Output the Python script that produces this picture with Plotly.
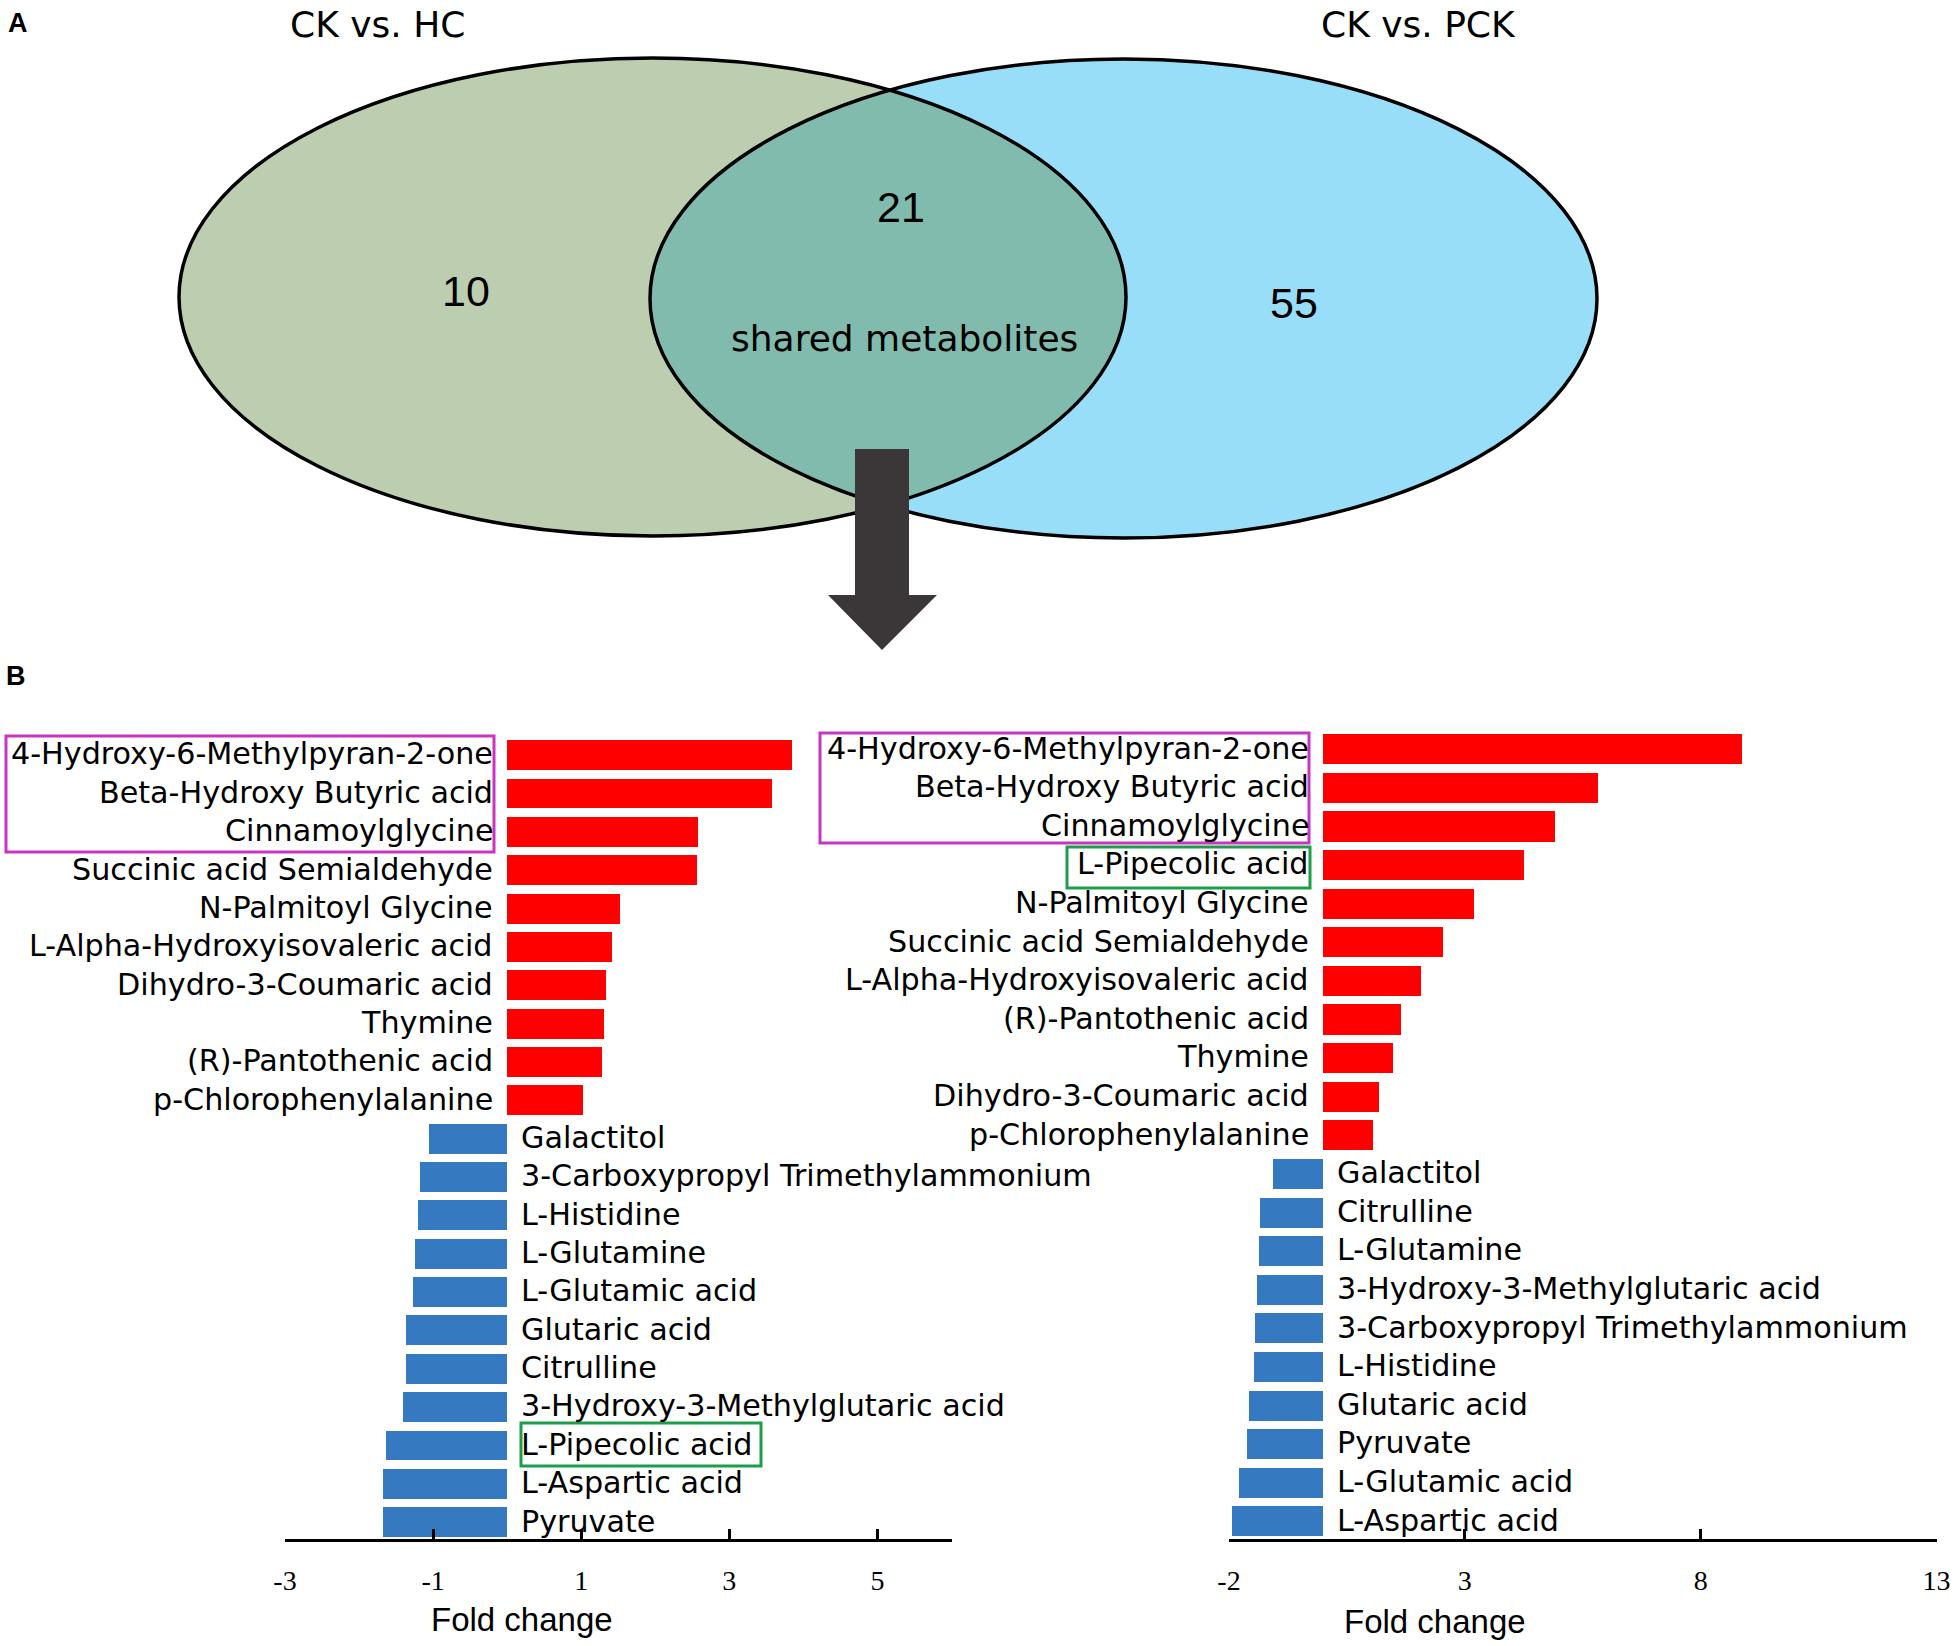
import plotly.graph_objects as go
import numpy as np

W, H = 1955, 1646

# ---------------- data ----------------
venn_titles = ["CK vs. HC", "CK vs. PCK"]
venn_counts = [10, 21, 55]          # HC only, shared, PCK only
venn_shared_label = "shared metabolites"

hc_labels = [
    "4-Hydroxy-6-Methylpyran-2-one", "Beta-Hydroxy Butyric acid", "Cinnamoylglycine",
    "Succinic acid Semialdehyde", "N-Palmitoyl Glycine", "L-Alpha-Hydroxyisovaleric acid",
    "Dihydro-3-Coumaric acid", "Thymine", "(R)-Pantothenic acid", "p-Chlorophenylalanine",
    "Galactitol", "3-Carboxypropyl Trimethylammonium", "L-Histidine", "L-Glutamine",
    "L-Glutamic acid", "Glutaric acid", "Citrulline", "3-Hydroxy-3-Methylglutaric acid",
    "L-Pipecolic acid", "L-Aspartic acid", "Pyruvate",
]
hc_values = [3.85, 3.57, 2.58, 2.57, 1.52, 1.41, 1.34, 1.31, 1.28, 1.03,
             -1.05, -1.18, -1.20, -1.24, -1.27, -1.36, -1.37, -1.40, -1.64, -1.67, -1.68]

pck_labels = [
    "4-Hydroxy-6-Methylpyran-2-one", "Beta-Hydroxy Butyric acid", "Cinnamoylglycine",
    "L-Pipecolic acid", "N-Palmitoyl Glycine", "Succinic acid Semialdehyde",
    "L-Alpha-Hydroxyisovaleric acid", "(R)-Pantothenic acid", "Thymine",
    "Dihydro-3-Coumaric acid", "p-Chlorophenylalanine",
    "Galactitol", "Citrulline", "L-Glutamine", "3-Hydroxy-3-Methylglutaric acid",
    "3-Carboxypropyl Trimethylammonium", "L-Histidine", "Glutaric acid", "Pyruvate",
    "L-Glutamic acid", "L-Aspartic acid",
]
pck_values = [8.88, 5.82, 4.92, 4.26, 3.20, 2.53, 2.06, 1.64, 1.47, 1.19, 1.05,
              -1.06, -1.34, -1.37, -1.40, -1.45, -1.48, -1.58, -1.61, -1.78, -1.93]

hc_ticks = [-3, -1, 1, 3, 5]
pck_ticks = [-2, 3, 8, 13]
x_title = "Fold change"

# ---------------- style ----------------
RED = "#FF0000"
BLUE = "#3579C0"
LABEL_FONT = dict(family="DejaVu Sans", size=30.2, color="black")
TICK_FONT = dict(family="Liberation Serif", size=28, color="black")


def px(x):
    return x / W


def py(y):
    return 1 - y / H


fig = go.Figure()

for vals, xa, ya in [(hc_values, "x", "y"), (pck_values, "x2", "y2")]:
    fig.add_trace(go.Bar(
        x=vals, y=list(range(len(vals))), orientation="h",
        marker=dict(color=[RED if v > 0 else BLUE for v in vals], line=dict(width=0)),
        width=0.78, xaxis=xa, yaxis=ya, showlegend=False, hoverinfo="skip",
    ))

axis_common = dict(showgrid=False, zeroline=False, showline=True, linecolor="black",
                   linewidth=3, ticks="inside", ticklen=10, tickwidth=2.5,
                   tickcolor="black", tickfont=TICK_FONT, ticklabelstandoff=15,
                   ticklabeloverflow="allow", automargin=False)

fig.update_layout(
    width=W, height=H, autosize=False,
    margin=dict(l=0, r=0, t=0, b=0, pad=0, autoexpand=False),
    paper_bgcolor="white", plot_bgcolor="white",
    bargap=0,
    xaxis=dict(domain=[px(285), px(951.5)], range=[-3, 6], tickvals=hc_ticks,
               ticktext=[str(v) for v in hc_ticks], anchor="y", **axis_common),
    yaxis=dict(domain=[py(1538.5), py(735.8)], range=[20.43, -0.5], visible=False,
               anchor="x", automargin=False),
    xaxis2=dict(domain=[px(1229), px(1936.6)], range=[-2, 13], tickvals=pck_ticks,
                ticktext=[str(v) for v in pck_ticks], anchor="y2", **axis_common),
    yaxis2=dict(domain=[py(1538.5), py(729.7)], range=[20.45, -0.5], visible=False,
                anchor="x2", automargin=False),
)

annotations = []
for labels, vals, xr, yr in [(hc_labels, hc_values, "x", "y"),
                             (pck_labels, pck_values, "x2", "y2")]:
    for i, (lab, v) in enumerate(zip(labels, vals)):
        pos = v > 0
        annotations.append(dict(
            x=0, y=i, xref=xr, yref=yr, text=lab, showarrow=False,
            xanchor="right" if pos else "left", yanchor="middle",
            xshift=-12 if pos else 12, yshift=1, font=LABEL_FONT,
        ))

for cx, cy in [(522, 1619), (1435, 1621)]:
    annotations.append(dict(x=px(cx), y=py(cy), xref="paper", yref="paper", text=x_title,
                            showarrow=False, xanchor="center", yanchor="middle",
                            font=dict(family="Liberation Sans", size=33, color="black")))

annotations.append(dict(x=px(18), y=py(23), xref="paper", yref="paper", text="<b>A</b>",
                        showarrow=False, xanchor="center", yanchor="middle",
                        font=dict(family="Liberation Sans", size=27, color="black")))
annotations.append(dict(x=px(16), y=py(676), xref="paper", yref="paper", text="<b>B</b>",
                        showarrow=False, xanchor="center", yanchor="middle",
                        font=dict(family="Liberation Sans", size=27, color="black")))

for t, cx in zip(venn_titles, [377, 1418]):
    annotations.append(dict(x=px(cx), y=py(24), xref="paper", yref="paper", text=t,
                            showarrow=False, xanchor="center", yanchor="middle",
                            font=dict(family="DejaVu Sans", size=36, color="black")))

for n, (cx, cy) in zip(venn_counts, [(466, 291), (901, 207), (1294, 303)]):
    annotations.append(dict(x=px(cx), y=py(cy), xref="paper", yref="paper", text=str(n),
                            showarrow=False, xanchor="center", yanchor="middle",
                            font=dict(family="Liberation Sans", size=43, color="black")))
annotations.append(dict(x=px(904.5), y=py(338), xref="paper", yref="paper",
                        text=venn_shared_label, showarrow=False, xanchor="center",
                        yanchor="middle",
                        font=dict(family="DejaVu Sans", size=36, color="black")))

fig.update_layout(annotations=annotations)

# ---------------- Venn shapes ----------------
L = dict(cx=652.5, cy=297, rx=473.5, ry=239)
R = dict(cx=1123.5, cy=298.5, rx=473.5, ry=239.5)

shapes = []


def ellipse_shape(e, fill, line_w, layer="below"):
    return dict(type="circle", xref="paper", yref="paper",
                x0=px(e["cx"] - e["rx"]), x1=px(e["cx"] + e["rx"]),
                y0=py(e["cy"] + e["ry"]), y1=py(e["cy"] - e["ry"]),
                fillcolor=fill, line=dict(color="black", width=line_w), layer=layer)


shapes.append(ellipse_shape(L, "#BDCEB0", 0))
shapes.append(ellipse_shape(R, "#99DEF8", 0))

xm = 888.0
pts = []
thL = np.arccos((xm - L["cx"]) / L["rx"])
for a in np.linspace(-thL, thL, 120):
    pts.append((L["cx"] + L["rx"] * np.cos(a), L["cy"] + L["ry"] * np.sin(a)))
thR = np.arccos((xm - R["cx"]) / R["rx"])
for a in np.linspace(thR, 2 * np.pi - thR, 120):
    pts.append((R["cx"] + R["rx"] * np.cos(a), R["cy"] - R["ry"] * np.sin(a)))
path = "M " + " L ".join(f"{px(x):.5f},{py(y):.5f}" for x, y in pts) + " Z"
shapes.append(dict(type="path", xref="paper", yref="paper", path=path,
                   fillcolor="#80BBAD", line=dict(width=0), layer="below"))

shapes.append(ellipse_shape(L, "rgba(0,0,0,0)", 3.5, "above"))
shapes.append(ellipse_shape(R, "rgba(0,0,0,0)", 3.5, "above"))

arrow = [(855, 449), (909, 449), (909, 595), (937, 595), (882, 650), (828, 595), (855, 595)]
apath = "M " + " L ".join(f"{px(x):.5f},{py(y):.5f}" for x, y in arrow) + " Z"
shapes.append(dict(type="path", xref="paper", yref="paper", path=apath,
                   fillcolor="#3B3637", line=dict(width=0), layer="above"))

MAG = "#C935C2"
GRN = "#1E9E4A"
for (x0, y0, x1, y1, c) in [(6, 736, 494, 852, MAG), (820, 733, 1309, 843, MAG),
                            (1067, 847, 1310, 888, GRN), (521, 1423, 761, 1466, GRN)]:
    shapes.append(dict(type="rect", xref="paper", yref="paper",
                       x0=px(x0), x1=px(x1), y0=py(y1), y1=py(y0),
                       line=dict(color=c, width=3), fillcolor="rgba(0,0,0,0)", layer="above"))

fig.update_layout(shapes=shapes)

fig.write_html("out.html", config={"displayModeBar": False},
               post_script="document.body.style.margin='0';document.body.style.overflow='hidden';")
